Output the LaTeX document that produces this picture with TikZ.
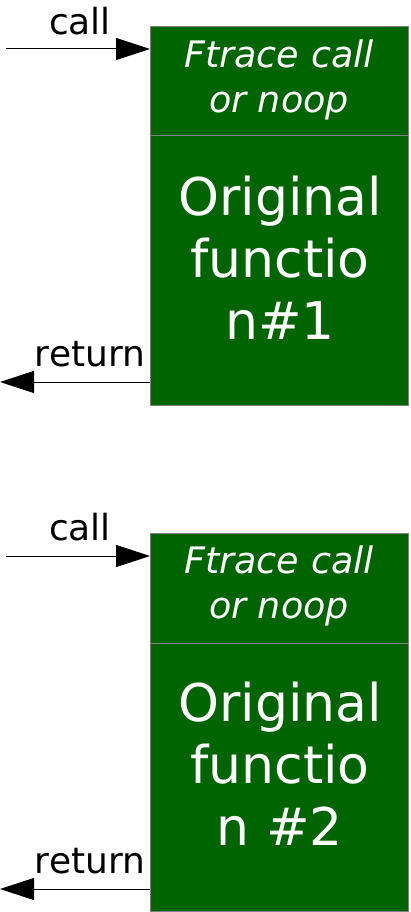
\documentclass[tikz,border=0pt]{standalone}
\usepackage{fontspec}
\setmainfont{DejaVu Sans}
\usetikzlibrary{arrows.meta}
\definecolor{boxgreen}{HTML}{006400}
\definecolor{boxedge}{HTML}{808080}
\begin{document}
\begin{tikzpicture}[x=1pt,y=-1pt,
  fbox/.style={fill=boxgreen,draw=boxedge,line width=1pt},
  divider/.style={draw=boxedge,line width=1pt},
  arr/.style={line width=1pt,-{Triangle[length=34pt,width=22pt]}},
  small/.style={text=white,inner sep=0pt,align=center,font=\fontsize{36.5}{45}\selectfont\itshape},
  big/.style={text=white,inner sep=0pt,align=center,font=\fontsize{52}{62}\selectfont},
  lbl/.style={text=black,inner sep=0pt,font=\fontsize{36}{43}\selectfont}]
\useasboundingbox (0,0) rectangle (411,912);
% box 1
\path[fbox] (150,27) rectangle (408,405);
\coordinate (d1l) at (150,136); \coordinate (d1r) at (408,136);
\draw[divider] (d1l) -- (d1r);
\node[small] (ft1) at (279,80) {Ftrace call\\or noop};
\node[big] (of1) at (280,258) {Original\\functio\\n\#1};
\coordinate (c1s) at (6,49); \coordinate (c1e) at (150,49);
\draw[arr] (c1s) -- (c1e);
\node[lbl] (call1) at (80,21) {call};
\coordinate (r1s) at (150,382); \coordinate (r1e) at (0,382);
\draw[arr] (r1s) -- (r1e);
\node[lbl] (ret1) at (90,354) {return};
% box 2
\path[fbox] (150,533) rectangle (408,911);
\coordinate (d2l) at (150,643); \coordinate (d2r) at (408,643);
\draw[divider] (d2l) -- (d2r);
\node[small] (ft2) at (279,586) {Ftrace call\\or noop};
\node[big] (of2) at (280,764) {Original\\functio\\n \#2};
\coordinate (c2s) at (6,556); \coordinate (c2e) at (150,556);
\draw[arr] (c2s) -- (c2e);
\node[lbl] (call2) at (80,527) {call};
\coordinate (r2s) at (150,889); \coordinate (r2e) at (0,889);
\draw[arr] (r2s) -- (r2e);
\node[lbl] (ret2) at (90,861) {return};
\end{tikzpicture}
\end{document}
